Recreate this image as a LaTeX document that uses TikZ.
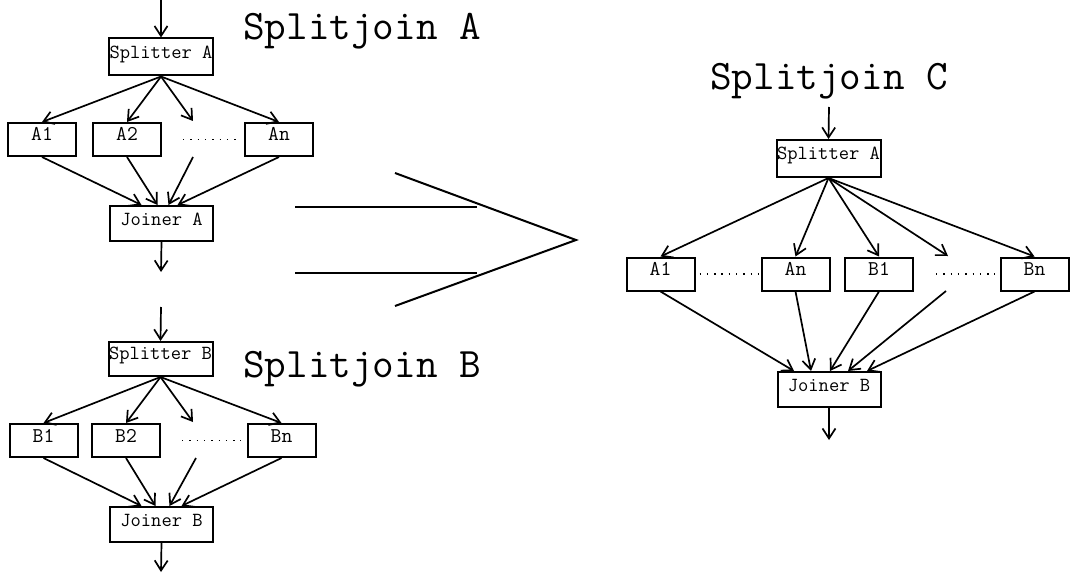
\documentclass[tikz,border=0pt]{standalone}
\usepackage{fontspec}
\usetikzlibrary{arrows.meta}
\newcommand{\boxfont}{\ttfamily\fontsize{20}{22}\selectfont}
\newcommand{\filtfont}{\ttfamily\fontsize{21}{24}\selectfont}
\newcommand{\sjfont}{\ttfamily\fontsize{42}{48}\selectfont}

\begin{document}
\begin{tikzpicture}[x=1pt,y=-1pt,
    filtbox/.style={draw,line width=2pt,inner sep=0pt,font=\filtfont,
      minimum width=68pt,text height=18pt,text depth=15pt},
    splitbox/.style={filtbox,font=\boxfont,minimum width=104pt,text height=20pt,text depth=17pt},
    joinbox/.style={filtbox,font=\boxfont,minimum width=103pt,text height=19pt,text depth=16pt},
    sjtitle/.style={anchor=base west,inner sep=0pt,font=\sjfont},
    flow/.style={-{Straight Barb[length=10pt,width=13pt]},line width=1.7pt},
    ellip/.style={line width=1.4pt,dash pattern=on 1.4pt off 5.9pt},
    bigarrow/.style={line width=2pt,line join=miter}
  ]
    \useasboundingbox (0,0) rectangle (1073,575);

    % splitjoin A
    \node[sjtitle] (ta) at (243,40) {Splitjoin A};
    \coordinate (ain) at (161,0);
    \node[splitbox] (sa) at (161,57) {Splitter A};
    \node[filtbox] (a1) at (42,139.5) {A1};
    \node[filtbox] (a2) at (127,139.5) {A2};
    \node[filtbox] (an) at (279,139.5) {An};
    \coordinate (adot) at (193,121);
    \coordinate (adotb) at (193,157);
    \node[joinbox] (ja) at (161.5,223.5) {Joiner A};
    \coordinate (aout) at (161,272);
    \draw[flow] (ain) -- (sa.north);
    \draw[flow] (sa.south) -- (a1.north);
    \draw[flow] (sa.south) -- (a2.north);
    \draw[flow] (sa.south) -- (adot);
    \draw[flow] (sa.south) -- (an.north);
    \draw[flow] (a1.south) -- ([xshift=-20pt]ja.north);
    \draw[flow] (a2.south) -- ([xshift=-4pt]ja.north);
    \draw[flow] (adotb) -- ([xshift=7pt]ja.north);
    \draw[flow] (an.south) -- ([xshift=16pt]ja.north);
    \draw[flow] (ja.south) -- (aout);
    \draw[ellip] ([xshift=21pt]a2.east) -- ([xshift=-5pt]an.west);

    % splitjoin B
    \node[sjtitle] (tb) at (243,377) {Splitjoin B};
    \coordinate (bin) at (161,307);
    \node[splitbox,text height=17pt] (sb) at (160.5,359) {Splitter B};
    \node[filtbox] (b1) at (43.5,440.5) {B1};
    \node[filtbox] (b2) at (126,440.5) {B2};
    \node[filtbox] (bn) at (281.5,440.5) {Bn};
    \coordinate (bdot) at (193,422);
    \coordinate (bdotb) at (196,458);
    \node[joinbox] (jb) at (161.5,524.5) {Joiner B};
    \coordinate (bout) at (161,572);
    \draw[flow] (bin) -- (sb.north);
    \draw[flow] (sb.south) -- (b1.north);
    \draw[flow] (sb.south) -- (b2.north);
    \draw[flow] (sb.south) -- (bdot);
    \draw[flow] (sb.south) -- (bn.north);
    \draw[flow] (b1.south) -- ([xshift=-20pt]jb.north);
    \draw[flow] (b2.south) -- ([xshift=-6pt]jb.north);
    \draw[flow] (bdotb) -- ([xshift=8pt]jb.north);
    \draw[flow] (bn.south) -- ([xshift=20pt]jb.north);
    \draw[flow] (jb.south) -- (bout);
    \draw[ellip] ([xshift=21pt]b2.east) -- ([xshift=-6pt]bn.west);

    % fusing arrow
    \draw[bigarrow] (295,207) -- (477,207);
    \draw[bigarrow] (295,273) -- (477,273);
    \draw[bigarrow] (395,173) -- (576,240) -- (395,306);

    % splitjoin C
    \node[sjtitle] (tc) at (710,90) {Splitjoin C};
    \coordinate (cin) at (829,107);
    \node[splitbox] (sc) at (828.5,158.5) {Splitter A};
    \node[filtbox] (ca1) at (660.5,274) {A1};
    \node[filtbox] (can) at (795.5,274) {An};
    \node[filtbox] (cb1) at (879,274) {B1};
    \node[filtbox] (cbn) at (1034.5,274) {Bn};
    \coordinate (cdot) at (948,256);
    \coordinate (cdotb) at (946,291);
    \node[joinbox] (jc) at (829,389.5) {Joiner B};
    \coordinate (cout) at (829,440);
    \draw[flow] (cin) -- (sc.north);
    \draw[flow] (sc.south) -- (ca1.north);
    \draw[flow] (sc.south) -- (can.north);
    \draw[flow] (sc.south) -- (cb1.north);
    \draw[flow] (sc.south) -- (cdot);
    \draw[flow] (sc.south) -- (cbn.north);
    \draw[flow] (ca1.south) -- ([xshift=-35pt]jc.north);
    \draw[flow] (can.south) -- ([xshift=-18pt]jc.north);
    \draw[flow] (cb1.south) -- ([xshift=1pt]jc.north);
    \draw[flow] (cdotb) -- ([xshift=19pt]jc.north);
    \draw[flow] (cbn.south) -- ([xshift=38pt]jc.north);
    \draw[flow] (jc.south) -- (cout);
    \draw[ellip] ([xshift=4pt]ca1.east) -- ([xshift=-2pt]can.west);
    \draw[ellip] ([xshift=22pt]cb1.east) -- ([xshift=-5pt]cbn.west);
  \end{tikzpicture}
\end{document}
